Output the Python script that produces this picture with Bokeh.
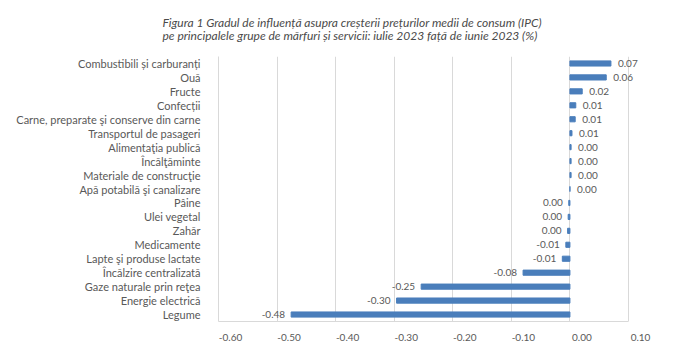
from bokeh.plotting import figure
from bokeh.models import (ColumnDataSource, FactorRange, Title, FixedTicker,
                          NumeralTickFormatter, Range1d, LinearAxis, CustomJSTickFormatter)
from bokeh.core.properties import value
from bokeh.embed import file_html
from bokeh.resources import INLINE

categories = [
    "Combustibili și carburanți", "Ouă", "Fructe", "Confecții",
    "Carne, preparate şi conserve din carne", "Transportul de pasageri",
    "Alimentaţia publică", "Încălţăminte", "Materiale de construcţie",
    "Apă potabilă şi canalizare", "Pâine", "Ulei vegetal", "Zahăr",
    "Medicamente", "Lapte şi produse lactate", "Încălzire centralizată",
    "Gaze naturale prin reţea", "Energie electrică", "Legume",
]
values = [0.070, 0.062, 0.021, 0.010, 0.009, 0.0035, 0.002, 0.002, 0.002,
          0.0, -0.002, -0.003, -0.004, -0.007, -0.013, -0.080, -0.254, -0.296, -0.476]
labels = ["0.07", "0.06", "0.02", "0.01", "0.01", "0.01", "0.00", "0.00", "0.00",
          "0.00", "0.00", "0.00", "0.00", "-0.01", "-0.01", "-0.08", "-0.25", "-0.30", "-0.48"]
x_ticks = [-0.6, -0.5, -0.4, -0.3, -0.2, -0.1, 0.0, 0.1]
title_line1 = "Figura 1  Gradul de influență asupra creșterii prețurilor medii de consum (IPC)"
title_line2 = "pe principalele grupe de mărfuri și servicii: iulie 2023 față de iunie 2023 (%)"

FONT = "Lato"
GREY = "#595959"
BAR = "#4a7ebb"
X_START, X_END = -0.6, 0.17
SHIFT = 0.0205  # tick labels sit a little right of their gridline, as in the reference

p = figure(width=675, height=350, output_backend="svg", toolbar_location=None,
           y_range=FactorRange(*reversed(categories), range_padding=0),
           x_range=Range1d(X_START, X_END),
           min_border_left=218, min_border_right=6, min_border_top=56, min_border_bottom=29)
p.outline_line_color = None
p.extra_x_ranges = {"lab": Range1d(X_START - SHIFT, X_END - SHIFT)}

src = ColumnDataSource(dict(cat=categories, val=values))
p.hbar(y="cat", left=0, right="val", height=0.37, source=src, color=BAR)

pos = ColumnDataSource(dict(
    cat=[c for c, v in zip(categories, values) if v >= 0],
    val=[v for v in values if v >= 0],
    lab=[l for l, v in zip(labels, values) if v >= 0]))
neg = ColumnDataSource(dict(
    cat=[c for c, v in zip(categories, values) if v < 0],
    val=[v for v in values if v < 0],
    lab=[l for l, v in zip(labels, values) if v < 0]))
p.text(x="val", y="cat", text="lab", source=pos, x_offset=7, text_align="left",
       text_baseline="middle", text_font=value(FONT), text_font_size="10px", text_color=GREY)
p.text(x="val", y="cat", text="lab", source=neg, x_offset=-6, text_align="right",
       text_baseline="middle", text_font=value(FONT), text_font_size="10px", text_color=GREY)

# main x axis: only the line, from -0.60 to 0.10
p.xaxis.ticker = FixedTicker(ticks=x_ticks)
p.xaxis.bounds = (x_ticks[0], x_ticks[-1])
p.xaxis.formatter = CustomJSTickFormatter(code="return ''")
p.xaxis.major_tick_line_color = None
p.xaxis.minor_tick_line_color = None
p.xaxis.axis_line_color = "#d9d9d9"
p.xaxis.major_label_standoff = 0

# label axis
lab_axis = LinearAxis(x_range_name="lab", ticker=FixedTicker(ticks=x_ticks),
                      formatter=NumeralTickFormatter(format="0.00"))
lab_axis.axis_line_color = None
lab_axis.major_tick_line_color = None
lab_axis.minor_tick_line_color = None
lab_axis.major_label_text_font = FONT
lab_axis.major_label_text_font_size = "10px"
lab_axis.major_label_text_color = GREY
lab_axis.major_label_standoff = 0
p.add_layout(lab_axis, "below")

p.yaxis.major_tick_line_color = None
p.yaxis.minor_tick_line_color = None
p.yaxis.axis_line_color = "#d9d9d9"
p.yaxis.major_label_text_font = FONT
p.yaxis.major_label_text_font_size = "11px"
p.yaxis.major_label_text_color = GREY
p.yaxis.major_label_standoff = 12

p.ygrid.grid_line_color = None
p.xgrid.ticker = FixedTicker(ticks=x_ticks)
p.xgrid.grid_line_color = "#d9d9d9"

# two-line title
p.add_layout(Title(text=title_line1 + "\n" + title_line2, align="left", offset=-56,
                   standoff=26, text_line_height=0.89,
                   text_font=FONT, text_font_size="12px", text_font_style="italic",
                   text_color="#4a4a4a"), "above")

open("out.html", "w").write(file_html(p, INLINE))
